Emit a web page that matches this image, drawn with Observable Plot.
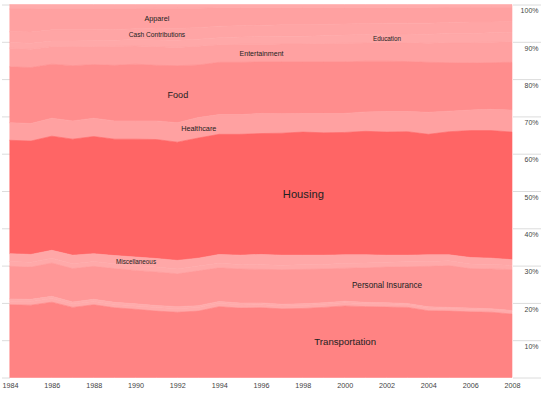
<!DOCTYPE html>
<html>
<head>
<meta charset="utf-8">
<script src="https://cdn.jsdelivr.net/npm/d3@7"></script>
<script src="https://cdn.jsdelivr.net/npm/@observablehq/plot@0.6"></script>
<style>
  html, body { margin: 0; padding: 0; background: #fff; }
  #chart { width: 545px; height: 393px; }
</style>
</head>
<body>
<div id="chart"></div>
<script>
const years = [1984,1985,1986,1987,1988,1989,1990,1991,1992,1993,1994,1995,1996,1997,1998,1999,2000,2001,2002,2003,2004,2005,2006,2007,2008];

// categories, alphabetical (top of the stack first)
const categories = ["Alcoholic Beverages","Apparel","Cash Contributions","Education","Entertainment","Food","Healthcare","Housing","Miscellaneous","Personal Care","Personal Insurance","Reading","Tobacco","Transportation"];

// share of spending, percent, per year
const alcoholic      = [1.2,1.2,1.1,1.1,1.1,1.1,1.1,1.0,1.0,1.0,0.9,0.9,0.9,0.9,0.9,0.9,0.9,0.9,0.9,0.9,0.9,0.8,0.8,0.8,0.8];
const apparel        = [6.1,6.2,5.7,5.7,5.7,5.6,5.4,5.3,5.4,5.2,4.9,4.8,4.7,4.5,4.5,4.4,4.3,4.2,4.1,4.1,4.1,4.0,3.9,3.9,3.8];
const cash           = [2.9,3.0,3.0,3.0,2.9,2.9,2.9,3.2,3.2,3.1,3.1,3.0,3.0,3.1,3.1,3.1,3.0,3.0,2.9,2.9,3.0,3.0,3.1,2.9,2.9];
const education      = [1.5,1.6,1.5,1.6,1.6,1.6,1.7,1.8,1.9,1.9,1.9,2.0,2.1,2.1,2.1,2.1,2.2,2.2,2.3,2.3,2.4,2.4,2.4,2.5,2.5];
const entertainment  = [5.0,4.9,4.7,5.0,4.8,5.1,4.9,5.0,4.9,5.0,4.7,4.8,4.7,4.8,4.8,4.9,5.0,4.9,5.0,5.1,5.1,5.4,5.5,5.5,5.5];
const food           = [15.0,15.0,14.5,14.8,14.4,14.9,15.2,14.9,15.3,14.1,14.0,14.0,13.8,13.9,13.8,13.8,13.8,13.6,13.5,13.4,13.4,13.0,12.6,12.5,12.8];
const healthcare     = [4.7,4.7,4.8,4.9,4.9,4.9,4.9,5.0,5.2,5.5,5.3,5.3,5.4,5.2,5.0,5.2,5.1,5.2,5.5,5.4,5.9,5.5,5.5,5.7,5.9];
const housing        = [30.4,30.4,30.6,31.1,31.4,31.2,31.6,31.9,31.7,32.2,32.2,32.4,32.4,32.7,33.0,32.8,32.8,33.1,33.0,33.1,32.3,33.0,34.0,34.2,34.2];
const miscellaneous  = [2.1,2.1,2.1,2.3,2.1,2.2,2.3,2.3,2.3,2.1,2.4,2.5,2.8,2.7,2.6,2.5,2.3,2.2,1.9,1.8,1.8,1.6,1.8,1.7,1.5];
const personalCare   = [1.3,1.3,1.3,1.3,1.3,1.3,1.3,1.3,1.3,1.3,1.2,1.2,1.2,1.2,1.2,1.2,1.3,1.3,1.3,1.3,1.3,1.3,1.2,1.2,1.2];
const personalIns    = [8.75,8.65,8.95,8.95,8.85,9.05,8.95,9.0,8.8,9.35,9.0,9.15,9.0,9.25,9.25,9.05,8.85,9.25,9.55,9.85,10.85,11.2,10.6,10.65,10.95];
const reading        = [0.6,0.6,0.6,0.55,0.55,0.55,0.55,0.55,0.55,0.5,0.5,0.5,0.5,0.45,0.45,0.4,0.4,0.35,0.35,0.3,0.3,0.3,0.3,0.25,0.25];
const tobacco        = [0.95,0.95,0.95,0.9,0.9,0.9,0.9,0.95,0.95,0.95,0.9,0.85,0.8,0.8,0.8,0.85,0.85,0.8,0.8,0.75,0.75,0.7,0.7,0.7,0.7];
const transportation = [19.5,19.4,20.2,18.8,19.5,18.7,18.3,17.8,17.5,17.8,19.0,18.6,18.7,18.4,18.5,18.8,19.2,19.0,18.9,18.8,17.9,17.8,17.6,17.5,17.0];

const seriesValues = [alcoholic, apparel, cash, education, entertainment, food, healthcare, housing, miscellaneous, personalCare, personalIns, reading, tobacco, transportation];

// labelled bands and the year each label sits at
const labelNames = ["Apparel","Cash Contributions","Education","Entertainment","Food","Healthcare","Housing","Miscellaneous","Personal Insurance","Transportation"];
const labelYears = [1991,1991,2002,1996,1992,1993,1998,1990,2002,2000];

// axis ticks
const xTicks = [1984,1986,1988,1990,1992,1994,1996,1998,2000,2002,2004,2006,2008];
const yGridTicks = [0,0.1,0.2,0.3,0.4,0.5,0.6,0.7,0.8,0.9,1];
const yLabelTicks = [0.1,0.2,0.3,0.4,0.5,0.6,0.7,0.8,0.9,1];
const yTickLabels = ["10%","20%","30%","40%","50%","60%","70%","80%","90%","100%"];

// ---- build table ----
const table = [];
categories.forEach((c, ci) => {
  years.forEach((yr, yi) => table.push({category: c, year: yr, value: seriesValues[ci][yi]}));
});
const meanShare = new Map(categories.map((c, ci) => [c, d3.mean(seriesValues[ci])]));
const stackOrder = categories.slice().reverse(); // bottom -> top

// label positions (normalized stack midpoints)
const labelRows = labelNames.map((name, li) => {
  const yi = years.indexOf(labelYears[li]);
  const total = d3.sum(seriesValues, s => s[yi]);
  let cum = 0, mid = 0, share = 0;
  for (const c of stackOrder) {
    const v = seriesValues[categories.indexOf(c)][yi];
    if (c === name) { mid = (cum + v / 2) / total; share = v / total * 100; break; }
    cum += v;
  }
  return {name, year: labelYears[li], mid, share};
});

const font = "'Liberation Sans', Arial, Helvetica, sans-serif";

const chart = Plot.plot({
  width: 545,
  height: 393,
  marginLeft: 10,
  marginRight: 33,
  marginTop: 4.5,
  marginBottom: 15.5,
  style: {fontFamily: font, background: "#fff"},
  x: {domain: [1984, 2008]},
  y: {domain: [0, 1]},
  color: {type: "linear", domain: [0, 32.3], range: ["#ffacac", "#ff6565"], interpolate: "rgb"},
  marks: [
    Plot.axisY({anchor: "left", ticks: yGridTicks, tickSize: 8, tickFormat: () => "", stroke: "#dcdcdc", label: null}),
    Plot.axisY({anchor: "right", ticks: yGridTicks, tickSize: 28, tickFormat: () => "", stroke: "#dcdcdc", label: null}),
    Plot.axisY({anchor: "right", ticks: yLabelTicks, tickSize: 0, tickPadding: 0, dx: 26, dy: 6,
      textAnchor: "end", fontSize: 7, fill: "#444", label: null,
      tickFormat: d => yTickLabels[yLabelTicks.findIndex(t => Math.abs(t - d) < 1e-9)]}),
    Plot.axisX({ticks: xTicks, tickSize: 0, tickPadding: 5, fontSize: 7.2, fill: "#444", label: null, tickFormat: d => String(d)}),
    Plot.areaY(table, {
      x: "year", y: "value", z: "category",
      fill: d => meanShare.get(d.category),
      stroke: d => meanShare.get(d.category),
      strokeWidth: 0.6,
      order: stackOrder, offset: "normalize", curve: "linear"
    }),
    Plot.text(labelRows, {
      x: "year", y: "mid", text: "name",
      fontSize: d => 4.6 + 1.15 * Math.sqrt(d.share),
      fill: "#222"
    })
  ]
});
document.getElementById("chart").appendChild(chart);
</script>
</body>
</html>
